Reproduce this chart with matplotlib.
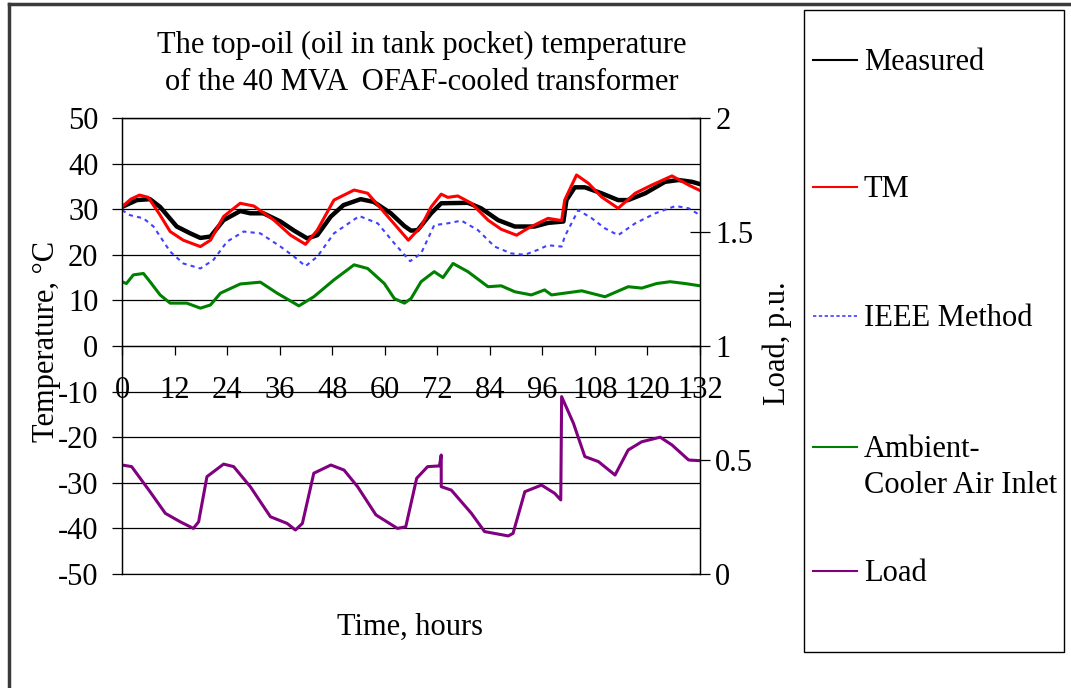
import matplotlib
matplotlib.use("Agg")
import matplotlib.pyplot as plt
from matplotlib.lines import Line2D
from matplotlib.patches import Rectangle
from matplotlib.ticker import FixedLocator, FuncFormatter

plt.rcParams['font.family'] = ['Liberation Serif', 'DejaVu Serif']
plt.rcParams['axes.unicode_minus'] = False

# Measured top-oil temperature (deg C)
hours_measured = [0, 3.4, 6.4, 8.7, 12.5, 15.6, 17.9, 20.2, 23.2, 27, 29.3, 32.3, 36.2, 39.3,
                  42.3, 44.6, 47.7, 50.6, 54.5, 57.5, 61.4, 64.5, 66, 67.5, 70.6, 72.9, 79, 82,
                  85.9, 89.7, 94.2, 97.3, 100.8, 101.5, 103.4, 105.7, 109.5, 113.3, 115.6,
                  119.5, 124, 127.1, 130.2, 132]
temp_measured = [30.5, 32.0, 32.2, 30.5, 26.2, 24.7, 23.7, 24.0, 27.6, 29.6, 29.1, 29.1, 27.3, 25.3,
                 23.6, 24.3, 28.4, 30.9, 32.2, 31.6, 29.1, 26.3, 25.3, 25.4, 29.1, 31.3, 31.4, 30.2,
                 27.6, 26.2, 26.2, 27.0, 27.3, 32.0, 34.8, 34.8, 33.5, 32.0, 32.0,
                 33.5, 36.0, 36.4, 36.0, 35.5]

# Thermal model (TM) prediction (deg C)
hours_tm = [0, 2, 4, 6, 8.5, 11, 14, 17.9, 20.2, 23.2, 27, 30.1, 34.7, 38.5, 41.9, 44.6, 48.4, 53,
            56.1, 60.7, 65.4, 68.3, 70.6, 72.9, 74.4, 76.7, 79.8, 83.6, 86.6, 90.1, 92.7, 97.3,
            100.4, 101.1, 103.8, 106.5, 109.5, 113.3, 117.2, 121, 125.6, 129.4, 132]
temp_tm = [30.5, 32.2, 33.1, 32.6, 29.0, 25.1, 23.2, 21.8, 23.2, 28.4, 31.3, 30.7, 27.6, 24.3,
           22.3, 25.4, 32.0, 34.2, 33.5, 28.4, 23.2, 26.2, 30.5, 33.3, 32.6, 32.9, 31.3, 27.6,
           25.6, 24.3, 25.8, 28.0, 27.5, 32.0, 37.5, 35.7, 32.7, 30.2, 33.5, 35.3, 37.3, 35.3, 34.1]

# IEEE method prediction (deg C)
hours_ieee = [0, 1.8, 4.9, 7.2, 11, 14, 17.9, 20.9, 24, 27.8, 31.6, 36.2, 39.3, 41.9, 44.6, 48.4,
              54.2, 58.4, 62.2, 65.8, 68.3, 71.3, 74.4, 77.5, 81.3, 85.1, 88.9, 92, 95, 97.3,
              100.4, 101.1, 104.2, 107.3, 110.3, 113.3, 117.2, 121.8, 126.4, 129.4, 132]
temp_ieee = [29.8, 28.7, 28.0, 26.2, 20.7, 18.1, 17.0, 18.9, 22.9, 25.1, 24.7, 21.8, 19.6, 17.5,
             19.6, 24.7, 28.5, 26.9, 22.5, 18.6, 20.3, 26.5, 26.9, 27.5, 25.4, 21.8, 20.3, 20.0,
             21.1, 22.1, 21.8, 24.0, 29.8, 28.0, 25.8, 24.3, 26.9, 29.1, 30.7, 30.2, 28.7]

# Ambient cooler air inlet temperature (deg C)
hours_ambient = [0, 1, 2.6, 4.9, 6.4, 8.7, 11, 14.8, 17.9, 20.2, 22.5, 27, 31.6, 35.4, 40.4, 43.8,
                 48.4, 53, 56.1, 59.9, 62.2, 64.5, 66, 68.3, 71.3, 73.3, 75.6, 79, 83.6, 86.6,
                 89.7, 93.5, 96.5, 98.1, 105, 110.3, 115.6, 118.7, 122.1, 125.2, 128.6, 132]
temp_ambient = [14.1, 13.7, 15.6, 15.9, 14.1, 11.2, 9.4, 9.4, 8.3, 9.0, 11.6, 13.6, 14.0, 11.6, 8.8,
                10.8, 14.5, 17.8, 17.0, 13.7, 10.4, 9.4, 10.4, 14.1, 16.3, 15.0, 18.1, 16.3, 13.0,
                13.2, 11.9, 11.2, 12.3, 11.2, 12.1, 10.8, 13.0, 12.7, 13.7, 14.1, 13.7, 13.2]

# Transformer load (p.u.)
hours_load = [0, 2.2, 6.4, 9.9, 13.3, 16.3, 17.5, 19.4, 23.2, 25.5, 29.3, 33.9, 37.7, 39.6, 41.2,
              43.8, 47.7, 50.7, 53.8, 58, 62.9, 64.8, 67.3, 69.8, 72.5, 72.9, 72.9, 75.2, 79.8,
              82.8, 88.2, 89.3, 92, 95.8, 98.8, 100.2, 100.4, 103.1, 105.7, 108.8, 112.6, 115.6,
              118.7, 122.9, 125.6, 129.4, 132]
load_pu = [0.478, 0.471, 0.361, 0.266, 0.229, 0.200, 0.229, 0.427, 0.482, 0.471, 0.383, 0.251,
           0.222, 0.193, 0.222, 0.442, 0.478, 0.456, 0.383, 0.259, 0.200, 0.207, 0.420, 0.471,
           0.474, 0.522, 0.383, 0.368, 0.266, 0.186, 0.167, 0.178, 0.361, 0.390, 0.354, 0.325,
           0.778, 0.661, 0.515, 0.493, 0.434, 0.544, 0.580, 0.600, 0.566, 0.500, 0.497]

hour_ticks = [0, 12, 24, 36, 48, 60, 72, 84, 96, 108, 120, 132]
temp_ticks = [-50, -40, -30, -20, -10, 0, 10, 20, 30, 40, 50]
load_ticks = [0, 0.5, 1, 1.5, 2]

W, H = 1071, 688
FS = 22


def fx(px):
    return px / W


def fy(py):
    return 1 - py / H


fig = plt.figure(figsize=(W / 100, H / 100), dpi=100)
ax = fig.add_axes([fx(122), fy(574), fx(700) - fx(122), fy(118) - fy(574)])

ax.plot(hours_measured, temp_measured, color='black', lw=3.2, zorder=3)
ax.plot(hours_tm, temp_tm, color='#ff0000', lw=2.2, zorder=4)
ax.plot(hours_ieee, temp_ieee, color='#4040ff', lw=1.5, ls=(0, (2, 2)), zorder=4)
ax.plot(hours_ambient, temp_ambient, color='#008000', lw=2.2, zorder=4)

ax.set_xlim(0, 132)
ax.set_ylim(-50, 50)
ax.yaxis.set_major_locator(FixedLocator(temp_ticks))
ax.xaxis.set_major_locator(FixedLocator(hour_ticks))
ax.grid(axis='y', color='black', lw=0.9)
ax.grid(axis='x', visible=False)
ax.set_axisbelow(True)

ax.spines['bottom'].set_position(('data', 0))
for s in ax.spines.values():
    s.set_linewidth(0.9)
ax.tick_params(axis='y', direction='out', length=7, width=0.9, labelsize=FS, pad=10)
ax.tick_params(axis='x', direction='out', length=6.5, width=0.9, labelsize=FS, pad=15)
for lbl in ax.get_xticklabels():
    lbl.set_zorder(6)

ax2 = ax.twinx()
ax2.plot(hours_load, load_pu, color='#800080', lw=2.2)
ax2.set_ylim(0, 2)
ax2.set_xlim(0, 132)
ax2.yaxis.set_major_locator(FixedLocator(load_ticks))
ax2.yaxis.set_major_formatter(FuncFormatter(lambda v, p: f"{v:g}"))
ax2.tick_params(axis='y', direction='inout', length=14, width=0.9, labelsize=FS, pad=4)
for s in ax2.spines.values():
    s.set_linewidth(0.9)

# Titles and axis labels
fig.text(fx(422), fy(45), "The top-oil (oil in tank pocket) temperature", ha='center', va='center', fontsize=FS)
fig.text(fx(422), fy(82), "of the 40 MVA  OFAF-cooled transformer", ha='center', va='center', fontsize=FS)
fig.text(fx(47), fy(341), "Temperature, °C", rotation=90, ha='center', va='center', fontsize=FS)
fig.text(fx(777), fy(343), "Load, p.u.", rotation=90, ha='center', va='center', fontsize=FS)
fig.text(fx(410), fy(627), "Time, hours", ha='center', va='center', fontsize=FS)

# Legend panel
fig.add_artist(Rectangle((fx(804), fy(652)), fx(1064) - fx(804), fy(10) - fy(652),
                         transform=fig.transFigure, facecolor='white', edgecolor='black', lw=1))
legend_items = [
    (["Measured"], dict(color='black', lw=1.5), 60),
    (["TM"], dict(color='#ff0000', lw=1.5), 187),
    (["IEEE Method"], dict(color='#4040ff', lw=1.2, ls=(0, (2, 1.5))), 316),
    (["Ambient-", "Cooler Air Inlet"], dict(color='#008000', lw=1.5), 447),
    (["Load"], dict(color='#800080', lw=1.5), 571),
]
for lines, style, ypx in legend_items:
    fig.add_artist(Line2D([fx(813), fx(857)], [fy(ypx), fy(ypx)], transform=fig.transFigure, **style))
    for i, line in enumerate(lines):
        fig.text(fx(864), fy(ypx + 10 + 36 * i), line, ha='left', va='baseline', fontsize=FS)

# Outer frame edges
fig.add_artist(Line2D([fx(9), fx(9)], [0, fy(4)], transform=fig.transFigure, color='#3a3a3a', lw=2.5))
fig.add_artist(Line2D([fx(9), 1], [fy(4), fy(4)], transform=fig.transFigure, color='#3a3a3a', lw=2.5))

fig.savefig("out.png", dpi=100)
